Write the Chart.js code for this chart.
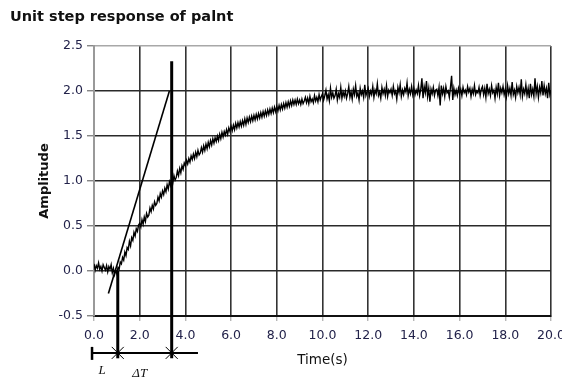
<!DOCTYPE html>
<html><head><meta charset="utf-8">
<script src="https://cdn.jsdelivr.net/npm/chart.js@4/dist/chart.umd.min.js"></script>
<style>html,body{margin:0;padding:0;background:#fff;}#wrap{width:562px;height:381px;position:relative;}</style>
</head><body><div id="wrap"><canvas id="c" width="562" height="381"></canvas></div>
<script>
const chartTitle = 'Unit step response of palnt';
const xAxisTitle = 'Time(s)';
const yAxisTitle = 'Amplitude';
const sampleStep = 0.05; // seconds between samples
// measured response, one row per second (20 samples each), last value at t = 20 s
const responseValues = [
  0.08,0.01,0.06,0.03,0.09,0.02,0.05,0.00,0.07,0.04,0.01,0.06,-0.01,0.05,0.02,0.07,-0.02,0.03,-0.04,0.01,
  -0.03,0.04,0.02,0.10,0.08,0.15,0.12,0.21,0.17,0.26,0.24,0.33,0.28,0.37,0.34,0.43,0.39,0.47,0.44,0.51,
  0.53,0.49,0.57,0.52,0.60,0.55,0.64,0.60,0.62,0.70,0.66,0.73,0.69,0.77,0.73,0.75,0.82,0.78,0.86,0.82,
  0.89,0.85,0.92,0.88,0.96,0.91,0.99,0.95,1.02,0.98,1.06,1.01,1.04,1.11,1.06,1.14,1.09,1.17,1.13,1.20,
  1.17,1.23,1.19,1.25,1.21,1.28,1.24,1.30,1.25,1.32,1.27,1.34,1.29,1.31,1.37,1.32,1.39,1.34,1.41,1.36,
  1.43,1.38,1.45,1.40,1.47,1.42,1.48,1.44,1.50,1.45,1.52,1.47,1.54,1.49,1.55,1.51,1.57,1.52,1.59,1.55,
  1.61,1.56,1.62,1.57,1.64,1.59,1.65,1.60,1.66,1.61,1.67,1.62,1.69,1.63,1.70,1.65,1.71,1.66,1.72,1.67,
  1.73,1.68,1.74,1.69,1.75,1.70,1.76,1.71,1.77,1.72,1.78,1.73,1.79,1.74,1.80,1.75,1.81,1.76,1.82,1.77,
  1.83,1.78,1.84,1.79,1.85,1.80,1.86,1.81,1.87,1.82,1.88,1.83,1.89,1.84,1.90,1.85,1.90,1.85,1.91,1.86,
  1.90,1.85,1.91,1.86,1.89,1.93,1.87,1.92,1.86,1.94,1.88,1.91,1.87,1.95,1.89,1.93,1.88,1.96,1.90,1.94,
  1.97,1.90,1.95,2.01,1.91,1.96,1.89,2.03,1.93,1.98,1.92,1.95,2.02,1.90,1.97,1.93,2.04,1.92,1.99,1.94,
  2.00,1.92,1.97,2.05,1.93,1.99,1.91,2.02,1.96,2.06,1.94,1.98,1.90,2.03,1.96,2.00,1.93,2.07,1.95,1.99,
  2.03,1.94,2.00,1.96,2.05,1.93,2.01,1.97,2.08,1.95,1.99,1.92,2.04,1.97,2.02,1.95,2.06,1.94,2.01,1.98,
  2.02,1.95,2.05,1.97,2.00,1.91,2.04,1.98,2.07,1.94,2.01,1.96,2.03,1.99,2.09,1.95,2.02,1.97,2.05,1.96,
  2.03,1.96,2.01,1.97,2.06,1.95,2.02,2.14,1.92,2.05,1.98,2.11,1.94,2.03,1.88,2.02,1.97,2.04,1.95,2.01,
  2.02,1.95,2.04,1.84,2.06,1.97,2.03,1.94,2.05,1.98,2.00,1.93,2.04,2.17,1.90,2.03,1.96,2.01,1.95,2.03,
  1.97,2.02,1.95,2.04,1.98,2.01,1.96,2.05,1.99,2.03,1.94,2.02,1.97,2.06,1.96,2.00,1.98,2.04,1.95,2.02,
  2.05,1.96,2.03,1.93,2.08,1.97,2.02,1.95,2.06,1.98,2.01,1.92,2.04,1.97,2.09,1.95,2.03,1.98,2.05,1.96,
  2.02,1.94,2.06,1.97,2.03,1.95,2.10,1.96,2.01,1.93,2.05,1.98,2.04,1.96,2.13,1.94,2.02,1.97,2.07,1.95,
  2.03,1.92,2.08,1.96,2.02,1.94,2.14,1.97,2.05,1.93,2.04,1.98,2.11,1.95,2.06,1.97,2.03,1.92,2.09,1.96,
  2.01
];
// tangent line drawn on the response (x values, y values)
const tangentX = [0.63, 3.30];
const tangentY = [-0.25, 2.00];
// vertical marker lines: dead time L and L + ΔT
const markerX = [1.04, 3.40];
const markerTopY = [0.00, 2.33];
const markerBottomY = -0.97;
// dimension line under the axis
const dimLineY = -0.91;
const dimLineX = [-0.13, 4.55];
const dimLabels = ['L', 'ΔT'];
const dimLabelX = [0.35, 2.0];
const dimLabelY = [-1.11, -1.14];
// axes
const xMin = 0, xMax = 20, xStep = 2;
const yMin = -0.5, yMax = 2.5, yStep = 0.5;

const responsePoints = responseValues.map((v, i) => ({x: Math.round(i * sampleStep * 100) / 100, y: v}));
const tangentPoints = tangentX.map((x, i) => ({x, y: tangentY[i]}));

const annotPlugin = {
  id: 'annot',
  afterDatasetsDraw(chart) {
    const {ctx, scales: {x, y}} = chart;
    ctx.save();
    ctx.strokeStyle = '#000';
    ctx.lineCap = 'butt';
    ctx.lineWidth = 3;
    markerX.forEach((mx, i) => {
      const px = x.getPixelForValue(mx);
      ctx.beginPath();
      ctx.moveTo(px, y.getPixelForValue(markerTopY[i]));
      ctx.lineTo(px, y.getPixelForValue(markerBottomY));
      ctx.stroke();
    });
    const dy = y.getPixelForValue(dimLineY);
    const x0 = x.getPixelForValue(dimLineX[0]);
    const x1 = x.getPixelForValue(dimLineX[1]);
    ctx.lineWidth = 2;
    ctx.beginPath(); ctx.moveTo(x0, dy); ctx.lineTo(x1, dy); ctx.stroke();
    ctx.lineWidth = 2.5;
    ctx.beginPath(); ctx.moveTo(x0 + 1, dy - 6); ctx.lineTo(x0 + 1, dy + 7); ctx.stroke();
    ctx.lineWidth = 1;
    markerX.forEach(mx => {
      const px = x.getPixelForValue(mx);
      ctx.beginPath();
      ctx.moveTo(px - 6, dy - 6); ctx.lineTo(px + 6, dy + 6);
      ctx.moveTo(px + 6, dy - 6); ctx.lineTo(px - 6, dy + 6);
      ctx.stroke();
    });
    ctx.fillStyle = '#111';
    ctx.font = 'italic 13px "Liberation Serif"';
    ctx.textAlign = 'center';
    ctx.textBaseline = 'middle';
    dimLabels.forEach((t, i) => {
      ctx.fillText(t, x.getPixelForValue(dimLabelX[i]), y.getPixelForValue(dimLabelY[i]));
    });
    ctx.restore();
  }
};

new Chart(document.getElementById('c'), {
  type: 'line',
  data: {
    datasets: [
      {data: responsePoints, borderColor: '#000', borderWidth: 1.4, pointRadius: 0, tension: 0, fill: false},
      {data: tangentPoints, borderColor: '#000', borderWidth: 1.6, pointRadius: 0, tension: 0, fill: false}
    ]
  },
  options: {
    responsive: false,
    animation: false,
    events: [],
    layout: {padding: {left: 10, right: 11, top: 0, bottom: 0}},
    plugins: {
      legend: {display: false},
      tooltip: {enabled: false},
      title: {
        display: true, text: chartTitle, align: 'start', color: '#111',
        font: {family: '"DejaVu Sans"', size: 14.5, weight: 'bold', lineHeight: 1.2},
        padding: {top: 9, bottom: 19.6}
      }
    },
    scales: {
      x: {
        type: 'linear', min: xMin, max: xMax,
        ticks: {stepSize: xStep, color: '#22224a', padding: 7, maxRotation: 0,
          font: {family: '"DejaVu Sans"', size: 12.5},
          callback: v => v.toFixed(1)},
        grid: {color: '#333', lineWidth: 1.6, tickLength: 5, tickColor: '#999', tickWidth: 1},
        border: {display: true, color: '#111', width: 2},
        title: {display: true, text: xAxisTitle, color: '#111',
          font: {family: '"DejaVu Sans"', size: 13.5, lineHeight: 1.2}, padding: {top: 0, bottom: 12}},
        afterFit: s => { s.height = 65; s.paddingLeft = 0; s.paddingRight = 0; }
      },
      y: {
        type: 'linear', min: yMin, max: yMax,
        ticks: {stepSize: yStep, color: '#22224a', padding: 4,
          font: {family: '"DejaVu Sans"', size: 12.5},
          callback: v => v.toFixed(1)},
        grid: {color: ctx => (ctx.tick && ctx.tick.value === yMax) ? '#a8a8a8' : '#2a2a2a', lineWidth: 1.6,
          tickLength: 7, tickColor: '#555', tickWidth: 1},
        border: {display: true, color: '#999', width: 2},
        title: {display: true, text: yAxisTitle, color: '#111',
          font: {family: '"DejaVu Sans"', size: 13, weight: 'bold', lineHeight: 1.2}, padding: {top: 27, bottom: 0}},
        afterFit: s => { s.width = 84; s.paddingTop = 0; s.paddingBottom = 0; }
      }
    }
  },
  plugins: [annotPlugin]
});
</script></body></html>
